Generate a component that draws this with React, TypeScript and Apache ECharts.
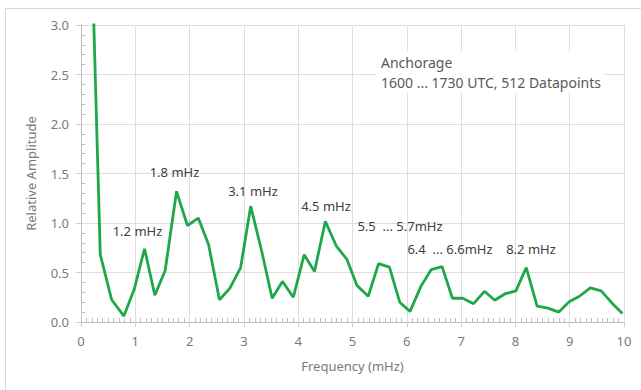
import React, { useEffect, useRef } from "react";
import * as echarts from "echarts";

const frequencies = [0.16, 0.355, 0.565, 0.79, 0.98, 1.17, 1.36, 1.55, 1.76, 1.96, 2.16, 2.35, 2.55, 2.74, 2.94, 3.125, 3.33, 3.52, 3.71, 3.91, 4.11, 4.3, 4.5, 4.7, 4.9, 5.08, 5.29, 5.48, 5.68, 5.87, 6.06, 6.26, 6.45, 6.65, 6.84, 7.03, 7.23, 7.43, 7.62, 7.81, 8.01, 8.2, 8.4, 8.6, 8.8, 8.99, 9.18, 9.38, 9.58, 9.78, 9.97];
const amplitudes = [4.5, 0.68, 0.225, 0.06, 0.33, 0.74, 0.27, 0.52, 1.32, 0.975, 1.05, 0.78, 0.225, 0.34, 0.55, 1.17, 0.71, 0.24, 0.41, 0.25, 0.68, 0.51, 1.016, 0.77, 0.63, 0.37, 0.26, 0.59, 0.555, 0.2, 0.107, 0.36, 0.53, 0.56, 0.24, 0.24, 0.185, 0.31, 0.22, 0.285, 0.315, 0.55, 0.16, 0.14, 0.1, 0.205, 0.26, 0.345, 0.315, 0.19, 0.085];
const peakLabels = ["1.2 mHz", "1.8 mHz", "3.1 mHz", "4.5 mHz", "5.5  ... 5.7mHz", "6.4  ... 6.6mHz", "8.2 mHz"];
const infoLines = ["Anchorage", "1600 ... 1730 UTC, 512 Datapoints"];
const xTitle = "Frequency (mHz)";
const yTitle = "Relative Amplitude";

const FONT = "'Noto Sans', sans-serif";

export default function App() {
  const ref = useRef<HTMLDivElement>(null);
  useEffect(() => {
    if (!ref.current) return;
    const chart = echarts.init(ref.current, undefined, { renderer: "svg" });
    const data = frequencies.map((f, i) => [f, amplitudes[i]]);
    const labelPos = [
      [137.5, 231],
      [174.5, 172],
      [253, 191],
      [326, 206],
      [400, 226],
      [450, 249],
      [531, 249],
    ];
    const graphics: any[] = [
      {
        type: "rect",
        shape: { x: 5.5, y: 8.5, width: 700, height: 500 },
        style: { fill: "none", stroke: "#d9d9d9", lineWidth: 1 },
        z: 0,
        silent: true,
      },
      {
        type: "rect",
        shape: { x: 376, y: 51, width: 229, height: 42 },
        style: { fill: "#ffffff" },
        z: 5,
        silent: true,
      },
    ];
    peakLabels.forEach((t, i) => {
      graphics.push({
        type: "text",
        x: labelPos[i][0],
        y: labelPos[i][1],
        z: 10,
        style: {
          text: t,
          fill: "#404040",
          font: `13px ${FONT}`,
          align: "center",
          verticalAlign: "middle",
        },
      });
    });
    infoLines.forEach((t, i) => {
      graphics.push({
        type: "text",
        x: 381,
        y: 62 + i * 20,
        z: 10,
        style: {
          text: t,
          fill: "#595959",
          font: `14px ${FONT}`,
          align: "left",
          verticalAlign: "middle",
        },
      });
    });
    const minorOnly = {
      type: "value",
      axisLine: { show: false },
      axisTick: { show: false, inside: true },
      axisLabel: { show: false },
      splitLine: { show: false },
    };
    chart.setOption({
      animation: false,
      backgroundColor: "#ffffff",
      grid: { left: 81, right: 17, top: 25, bottom: 68, containLabel: false },
      xAxis: [
        {
          type: "value",
          min: 0,
          max: 10,
          interval: 1,
          name: xTitle,
          nameLocation: "middle",
          nameGap: 37,
          nameTextStyle: { color: "#7a7a7a", fontSize: 13, fontFamily: FONT },
          axisLine: { show: true, lineStyle: { color: "#bfbfbf", width: 1 } },
          axisTick: { show: true, inside: false, length: 5, lineStyle: { color: "#d0d0d0" } },
          axisLabel: { color: "#7a7a7a", fontSize: 13, fontFamily: FONT, margin: 12 },
          splitLine: { show: true, lineStyle: { color: "#dedede", width: 1 } },
        },
        {
          ...minorOnly,
          position: "bottom",
          min: 0,
          max: 10,
          interval: 1,
          minorTick: { show: true, splitNumber: 10, length: 4, lineStyle: { color: "#bfbfbf" } },
        },
      ],
      yAxis: [
        {
          type: "value",
          min: 0,
          max: 3,
          interval: 0.5,
          name: yTitle,
          nameLocation: "middle",
          nameGap: 44,
          nameTextStyle: { color: "#7a7a7a", fontSize: 13, fontFamily: FONT },
          axisLine: { show: true, lineStyle: { color: "#bfbfbf", width: 1 } },
          axisTick: { show: true, inside: false, length: 5, lineStyle: { color: "#d0d0d0" } },
          axisLabel: {
            color: "#7a7a7a",
            fontSize: 13,
            fontFamily: FONT,
            margin: 12,
            formatter: (v: number) => v.toFixed(1),
          },
          splitLine: { show: true, lineStyle: { color: "#dedede", width: 1 } },
        },
        {
          ...minorOnly,
          position: "left",
          min: 0,
          max: 3,
          interval: 0.5,
          minorTick: { show: true, splitNumber: 5, length: 4, lineStyle: { color: "#bfbfbf" } },
        },
      ],
      series: [
        {
          type: "line",
          data,
          xAxisIndex: 0,
          yAxisIndex: 0,
          showSymbol: false,
          symbol: "none",
          clip: true,
          lineStyle: { color: "#1fa84a", width: 2.8 },
          z: 3,
        },
      ],
      graphic: graphics,
    });
    return () => chart.dispose();
  }, []);
  return (
    <div
      ref={ref}
      style={{ position: "fixed", left: 0, top: 0, width: 641, height: 390 }}
    />
  );
}
